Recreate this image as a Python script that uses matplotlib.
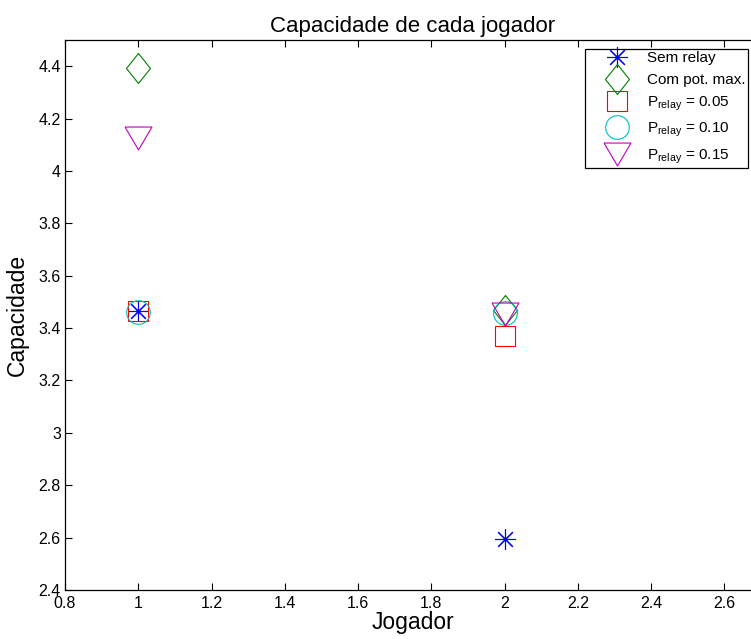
import matplotlib
matplotlib.use("Agg")
import matplotlib.pyplot as plt

plt.rcParams['font.family'] = ['Liberation Sans', 'DejaVu Sans']
plt.rcParams['mathtext.fontset'] = 'custom'
plt.rcParams['mathtext.rm'] = 'Liberation Sans'

jogador = [1, 2]
sem_relay = [3.465, 2.593]
com_pot_max = [4.392, 3.468]
p_005 = [3.465, 3.37]
p_010 = [3.462, 3.457]
p_015 = [4.127, 3.452]

x_ticks = [0.8, 1, 1.2, 1.4, 1.6, 1.8, 2, 2.2, 2.4, 2.6]
x_labels = ['0.8', '1', '1.2', '1.4', '1.6', '1.8', '2', '2.2', '2.4', '2.6']
y_ticks = [2.4, 2.6, 2.8, 3, 3.2, 3.4, 3.6, 3.8, 4, 4.2, 4.4]
y_labels = ['2.4', '2.6', '2.8', '3', '3.2', '3.4', '3.6', '3.8', '4', '4.2', '4.4']

# marker shapes: a tall diamond and a wide downward triangle
diamond = [(0, 1), (0.8, 0), (0, -1), (-0.8, 0), (0, 1)]
tri_down = [(-1, 0.85), (1, 0.85), (0, -0.85), (-1, 0.85)]

W, H = 751, 639
fig = plt.figure(figsize=(W / 100, H / 100), dpi=100)
# axes box runs past the right edge of the figure
left, right, top, bottom = 65, 761, 40, 590
ax = fig.add_axes([left / W, 1 - bottom / H, (right - left) / W, (bottom - top) / H])

mw = 0.8
ax.plot(jogador, sem_relay, linestyle='none', marker=(8, 2, 0), ms=15, mec='blue', mew=mw, label='Sem relay')
ax.plot(jogador, com_pot_max, linestyle='none', marker=diamond, ms=21.6, mfc='none', mec='green', mew=mw, label='Com pot. max.')
ax.plot(jogador, p_005, linestyle='none', marker='s', ms=14, mfc='none', mec='red', mew=mw, label=r'P$_{\mathregular{relay}}$ = 0.05')
ax.plot(jogador, p_010, linestyle='none', marker='o', ms=17, mfc='none', mec='c', mew=mw, label=r'P$_{\mathregular{relay}}$ = 0.10')
ax.plot(jogador, p_015, linestyle='none', marker=tri_down, ms=19.4, mfc='none', mec='m', mew=mw, label=r'P$_{\mathregular{relay}}$ = 0.15')

ax.set_xlim(0.8, 2.7)
ax.set_ylim(2.4, 4.5)
ax.set_xticks(x_ticks)
ax.set_xticklabels(x_labels)
ax.set_yticks(y_ticks)
ax.set_yticklabels(y_labels)
ax.tick_params(direction='in', top=True, right=True, length=5, width=0.8, labelsize=11.5, pad=3)
ax.tick_params(axis='x', pad=4)
for s in ax.spines.values():
    s.set_linewidth(0.9)

ax.set_title('Capacidade de cada jogador', fontsize=16, pad=6)
ax.set_xlabel('Jogador', fontsize=16.5, labelpad=0)
ax.set_ylabel('Capacidade', fontsize=16.5, labelpad=7)

leg = ax.legend(loc='upper left', bbox_to_anchor=((585 - left) / (right - left), 1 - (49 - top) / (bottom - top)),
                fontsize=11, frameon=True, fancybox=False, edgecolor='black', framealpha=1,
                borderpad=0.15, labelspacing=0.5, handlelength=3.9, handletextpad=0.0, borderaxespad=0)
leg.get_frame().set_linewidth(0.9)

fig.savefig('out.png', dpi=100)
